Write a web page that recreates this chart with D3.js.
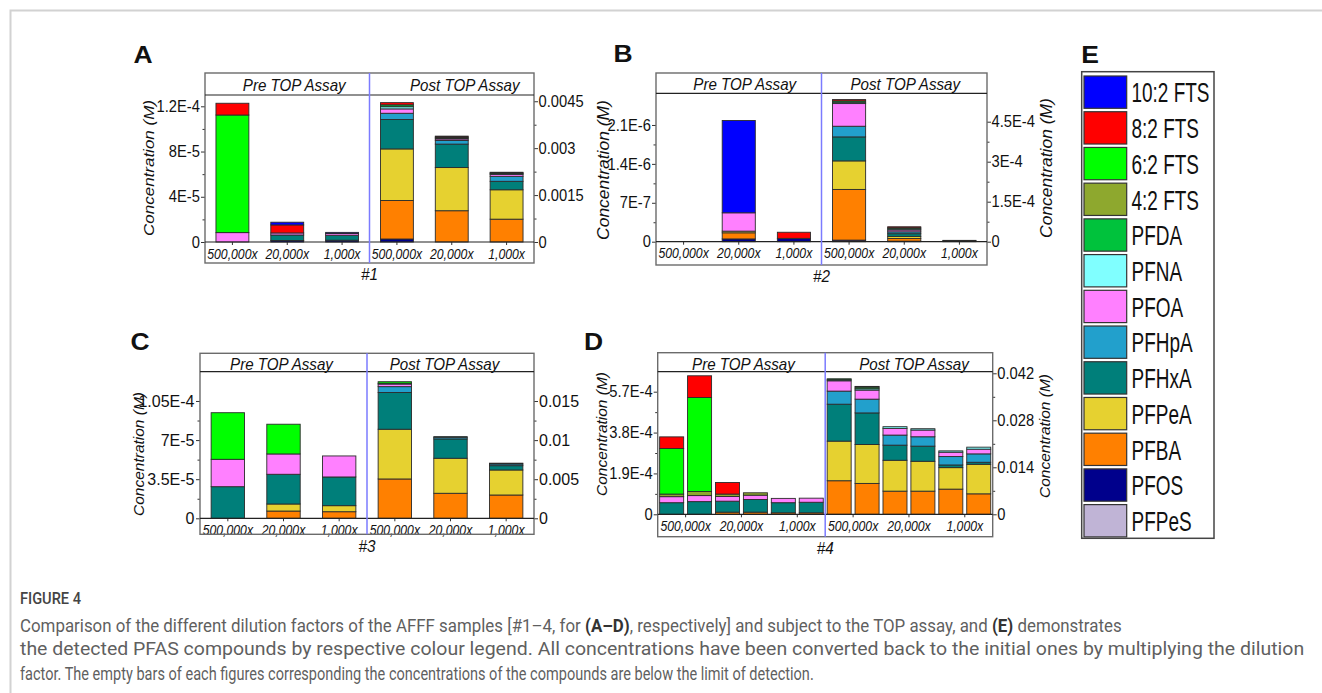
<!DOCTYPE html>
<html><head><meta charset="utf-8">
<script src="https://cdn.jsdelivr.net/npm/d3@7"></script>
<style>body{margin:0;background:#fff} svg{display:block}</style>
</head><body><svg id="fig" width="1322" height="693"></svg>
<script>
// ---------- DATA ----------
const compounds = ["10:2 FTS","8:2 FTS","6:2 FTS","4:2 FTS","PFDA","PFNA","PFOA","PFHpA","PFHxA","PFPeA","PFBA","PFOS","PFPeS"];
const compoundColors = ["#0000ff","#ff0000","#00ff00","#8ea82e","#00c23c","#80ffff","#ff80ff","#22a0cc","#007f7a","#e6d130","#ff8000","#00008c","#c0b4d6"];
const stackOrder = compounds.slice().reverse(); // bottom -> top
const dilutions = ["500,000x","20,000x","1,000x"];
const D_bars = ["500,000x a","500,000x b","20,000x a","20,000x b","1,000x a","1,000x b"];
const phases = ["Pre TOP Assay","Post TOP Assay"];

// Panel A (#1)
const A_pre = [
  {"PFOA":8.3e-6,"6:2 FTS":1.04e-4,"8:2 FTS":1.04e-5},
  {"PFOS":1.3e-6,"PFHxA":4.9e-6,"PFOA":1.8e-6,"8:2 FTS":7.1e-6,"10:2 FTS":2.4e-6},
  {"PFOS":1.6e-6,"PFHxA":4.4e-6,"PFOA":1.5e-6,"10:2 FTS":1.0e-6}
];
const A_post = [
  {"PFOS":9.6e-5,"PFBA":1.23e-3,"PFPeA":1.65e-3,"PFHxA":9.4e-4,"PFHpA":2.0e-4,"PFOA":1.4e-4,"PFNA":7e-5,"PFDA":6e-5,"8:2 FTS":7e-5},
  {"PFBA":1.0e-3,"PFPeA":1.38e-3,"PFHxA":7.5e-4,"PFHpA":1.15e-4,"PFOA":5e-5,"PFNA":3e-5,"PFDA":3e-5,"8:2 FTS":3e-5},
  {"PFBA":7.3e-4,"PFPeA":9.4e-4,"PFHxA":2.7e-4,"PFHpA":1.6e-4,"PFOA":6e-5,"PFNA":3e-5,"PFDA":2e-5,"8:2 FTS":2e-5}
];
// Panel B (#2)
const B_pre = [
  {},
  {"PFOS":5e-8,"PFBA":1.1e-7,"PFPeA":3e-8,"PFOA":3.3e-7,"10:2 FTS":1.66e-6},
  {"PFOS":6e-8,"8:2 FTS":1.1e-7}
];
const B_post = [
  {"PFOS":6e-6,"PFBA":1.9e-4,"PFPeA":1.07e-4,"PFHxA":9e-5,"PFHpA":4e-5,"PFOA":8.5e-5,"PFNA":5e-6,"PFDA":5e-6,"8:2 FTS":5e-6},
  {"PFOS":2e-6,"PFBA":1e-5,"PFPeA":8e-6,"PFHxA":1e-5,"PFHpA":7e-6,"PFOA":7e-6,"PFNA":4e-6,"PFDA":4e-6,"8:2 FTS":4e-6},
  {"PFOS":1e-6,"PFBA":2e-6,"PFHxA":2e-6}
];
// Panel C (#3)
const C_pre = [
  {"PFHxA":2.83e-5,"PFOA":2.45e-5,"6:2 FTS":4.17e-5},
  {"PFBA":6.5e-6,"PFPeA":6.3e-6,"PFHxA":2.66e-5,"PFOA":1.82e-5,"6:2 FTS":2.66e-5},
  {"PFBA":5.9e-6,"PFPeA":5.4e-6,"PFHxA":2.57e-5,"PFOA":1.88e-5}
];
const C_post = [
  {"PFBA":5.03e-3,"PFPeA":6.36e-3,"PFHxA":4.7e-3,"PFHpA":7.5e-4,"PFOA":3.3e-4,"PFNA":1e-4,"6:2 FTS":2e-4},
  {"PFBA":3.2e-3,"PFPeA":4.48e-3,"PFHxA":2.47e-3,"PFHpA":2e-4,"PFNA":1e-4},
  {"PFBA":2.98e-3,"PFPeA":3.2e-3,"PFHxA":5.5e-4,"PFHpA":2.2e-4,"PFOA":1e-4}
];
// Panel D (#4), two replicate bars per dilution
const D_pre = [
  {"PFHxA":5.4e-5,"PFOA":2.8e-5,"4:2 FTS":1.2e-5,"6:2 FTS":2.12e-4,"8:2 FTS":5.4e-5},
  {"PFHxA":5.9e-5,"PFOA":2.8e-5,"4:2 FTS":1.9e-5,"6:2 FTS":4.37e-4,"8:2 FTS":1.01e-4},
  {"PFBA":1e-5,"PFHxA":5.1e-5,"PFOA":2.2e-5,"4:2 FTS":1.1e-5,"8:2 FTS":5.4e-5},
  {"PFBA":1e-5,"PFHxA":5.9e-5,"PFOA":2e-5,"4:2 FTS":1.1e-5},
  {"PFBA":7e-6,"PFHxA":4.7e-5,"PFOA":2e-5},
  {"PFBA":7e-6,"PFHxA":4.9e-5,"PFOA":1.9e-5}
];
const D_post = [
  {"PFBA":1.0e-2,"PFPeA":1.18e-2,"PFHxA":1.1e-2,"PFHpA":3.9e-3,"PFOA":3.07e-3,"PFNA":3e-4,"PFDA":3e-4},
  {"PFBA":9.2e-3,"PFPeA":1.16e-2,"PFHxA":9.4e-3,"PFHpA":4.1e-3,"PFOA":2.7e-3,"PFNA":4e-4,"PFDA":5e-4,"8:2 FTS":2e-4},
  {"PFBA":6.9e-3,"PFPeA":9.2e-3,"PFHxA":4.5e-3,"PFHpA":3e-3,"PFOA":2e-3,"PFNA":5e-4},
  {"PFBA":6.9e-3,"PFPeA":8.9e-3,"PFHxA":4.5e-3,"PFHpA":2.8e-3,"PFOA":2e-3,"PFNA":4e-4},
  {"PFBA":7.5e-3,"PFPeA":6.4e-3,"PFHxA":8e-4,"PFHpA":2.5e-3,"PFOA":1.3e-3,"PFNA":4e-4},
  {"PFBA":6.1e-3,"PFPeA":8.8e-3,"PFHxA":6e-4,"PFHpA":2.5e-3,"PFOA":1.4e-3,"PFNA":6e-4}
];

// Axis ticks and labels
const A_leftTicks = [0,4e-5,8e-5,1.2e-4], A_leftLabels = ["0","4E-5","8E-5","1.2E-4"];
const A_rightTicks = [0,0.0015,0.003,0.0045], A_rightLabels = ["0","0.0015","0.003","0.0045"];
const B_leftTicks = [0,7e-7,1.4e-6,2.1e-6], B_leftLabels = ["0","7E-7","1.4E-6","2.1E-6"];
const B_rightTicks = [0,1.5e-4,3e-4,4.5e-4], B_rightLabels = ["0","1.5E-4","3E-4","4.5E-4"];
const C_leftTicks = [0,3.5e-5,7e-5,1.05e-4], C_leftLabels = ["0","3.5E-5","7E-5","1.05E-4"];
const C_rightTicks = [0,0.005,0.01,0.015], C_rightLabels = ["0","0.005","0.01","0.015"];
const D_leftTicks = [0,1.9e-4,3.8e-4,5.7e-4], D_leftLabels = ["0","1.9E-4","3.8E-4","5.7E-4"];
const D_rightTicks = [0,0.014,0.028,0.042], D_rightLabels = ["0","0.014","0.028","0.042"];

const captionTitle = "FIGURE 4";
const captionLines = [
  [["Comparison of the different dilution factors of the AFFF samples [#1\u20134, for ",0],["(A\u2013D)",1],[", respectively] and subject to the TOP assay, and ",0],["(E)",1],[" demonstrates",0]],
  [["the detected PFAS compounds by respective colour legend. All concentrations have been converted back to the initial ones by multiplying the dilution",0]],
  [["factor. The empty bars of each figures corresponding the concentrations of the compounds are below the limit of detection.",0]]
];

// ---------- LAYOUT ----------
const FONT = "'Liberation Sans', Arial, Helvetica, sans-serif";
const svg = d3.select("#fig");
svg.append("rect").attr("width",1322).attr("height",693).attr("fill","#fff");
svg.append("path").attr("d","M10.5,693 V10.5 H1322").attr("fill","none").attr("stroke","#d2d2d2").attr("stroke-width",2);

function label(g, x, y, s, o={}) {
  return g.append("text")
    .attr("transform", `translate(${x},${y}) rotate(${o.rot||0}) scale(${o.sx||1},${o.sy||1})`)
    .attr("text-anchor", o.anchor||"middle")
    .attr("dominant-baseline", "central")
    .attr("font-family", o.family||FONT)
    .attr("font-size", o.fs||16)
    .attr("font-style", o.italic?"italic":"normal")
    .attr("font-weight", o.bold?"bold":"normal")
    .attr("fill", o.fill||"#111")
    .text(s);
}

const panels = [
  {id:"A", tag:"#1", bars:dilutions, pad:0.4, pre:A_pre, post:A_post,
   lt:A_leftTicks, ltl:A_leftLabels, lmax:1.3e-4, rt:A_rightTicks, rtl:A_rightLabels, rmax:0.0047,
   L:{left:205,right:534,top:73,hb:95,zero:242,bottom:263,letter:[143,55],ylab:[148,168],yr:null,yfs:17,head:[7,13],tsx:0.92}},
  {id:"B", tag:"#2", bars:dilutions, pad:0.4, pre:B_pre, post:B_post,
   lt:B_leftTicks, ltl:B_leftLabels, lmax:2.67e-6, rt:B_rightTicks, rtl:B_rightLabels, rmax:5.565e-4,
   L:{left:656,right:987,top:73,hb:93.3,zero:241.7,bottom:265,letter:[623,54],ylab:[604,170],yr:[1047,168],yfs:17.5,head:[6,1],tsx:0.92}},
  {id:"C", tag:"#3", bars:dilutions, pad:0.4, pre:C_pre, post:C_post,
   lt:C_leftTicks, ltl:C_leftLabels, lmax:1.312e-4, rt:C_rightTicks, rtl:C_rightLabels, rmax:0.01875,
   L:{left:200,right:534,top:353.3,hb:371.7,zero:518.3,bottom:534.3,letter:[140,342],ylab:[139,454],yr:null,yfs:15.5,head:[-2,-6],tsx:1.0}},
  {id:"D", tag:"#4", bars:D_bars, pad:0.14, pre:D_pre, post:D_post,
   lt:D_leftTicks, ltl:D_leftLabels, lmax:6.63e-4, rt:D_rightTicks, rtl:D_rightLabels, rmax:0.04248,
   L:{left:657.7,right:992.7,top:352.7,hb:371.7,zero:514.3,bottom:536.7,letter:[593.5,342],ylab:[602,434],yr:[1045,436],yfs:15.5,head:[2,5],tsx:0.92}}
];

const stack = d3.stack().keys(stackOrder).value((d,k)=>d[k]||0);
const minorOf = t => d3.pairs(t).map(([a,b])=>(a+b)/2);

function styleAxis(sel, sx) {
  sel.select(".domain").remove();
  sel.selectAll("line").attr("stroke","#333").attr("stroke-width",1);
  sel.selectAll("text").attr("font-size",16).attr("font-family",FONT).attr("fill","#111")
     .attr("transform",`scale(${sx},1)`);
}

panels.forEach(P=>{
  const L = P.L;
  const g = svg.append("g");
  const mid = (L.left+L.right)/2;
  const halves = [[L.left,mid],[mid,L.right]];
  const yL = d3.scaleLinear([0,P.lmax],[L.zero,L.hb]);
  const yR = d3.scaleLinear([0,P.rmax],[L.zero,L.hb]);

  [P.pre, P.post].forEach((data,hi)=>{
    const [x0,x1] = halves[hi];
    const xb = d3.scaleBand(P.bars,[x0,x1]).paddingInner(P.pad).paddingOuter(P.pad/2);
    const y = hi===0 ? yL : yR;
    stack(data).forEach(s=>{
      const color = compoundColors[compounds.indexOf(s.key)];
      g.append("g").selectAll("rect")
        .data(s.map((v,i)=>({v,i})).filter(d=>d.v[1]-d.v[0]>0))
        .join("rect")
        .attr("x",d=>xb(P.bars[d.i])).attr("width",xb.bandwidth())
        .attr("y",d=>y(d.v[1])).attr("height",d=>y(d.v[0])-y(d.v[1]))
        .attr("fill",color).attr("stroke","#2b2b2b").attr("stroke-width",0.9);
    });
    const xg = d3.scaleBand(dilutions,[x0,x1]);
    g.append("g").attr("transform",`translate(0,${L.zero})`)
      .call(d3.axisBottom(xg).tickSize(3).tickFormat(""))
      .call(a=>styleAxis(a,1));
    dilutions.forEach(d=>label(g, xg(d)+xg.bandwidth()/2, L.zero+11, d, {fs:15.5,sx:0.79,italic:true}));
    label(g, (x0+x1)/2 + L.head[hi], (L.top+L.hb)/2+1, phases[hi], {fs:17,sx:0.89,italic:true});
  });

  // axes
  g.append("g").attr("transform",`translate(${L.left},0)`)
    .call(d3.axisLeft(yL).tickValues(P.lt).tickFormat((d,i)=>P.ltl[i]).tickSize(4).tickPadding(1.5))
    .call(a=>styleAxis(a,L.tsx));
  g.append("g").attr("transform",`translate(${L.left},0)`)
    .call(d3.axisLeft(yL).tickValues(minorOf(P.lt)).tickFormat("").tickSize(2.5))
    .call(a=>styleAxis(a,1));
  g.append("g").attr("transform",`translate(${L.right},0)`)
    .call(d3.axisRight(yR).tickValues(P.rt).tickFormat((d,i)=>P.rtl[i]).tickSize(4).tickPadding(1))
    .call(a=>styleAxis(a,L.tsx));
  g.append("g").attr("transform",`translate(${L.right},0)`)
    .call(d3.axisRight(yR).tickValues(minorOf(P.rt)).tickFormat("").tickSize(2.5))
    .call(a=>styleAxis(a,1));

  // frame
  g.append("rect").attr("x",L.left).attr("y",L.top).attr("width",L.right-L.left).attr("height",L.bottom-L.top)
    .attr("fill","none").attr("stroke","#6b6b6b").attr("stroke-width",1.4);
  [L.hb, L.zero].forEach(yy=>g.append("line").attr("x1",L.left).attr("x2",L.right).attr("y1",yy).attr("y2",yy)
    .attr("stroke","#222").attr("stroke-width",1.2));
  g.append("line").attr("x1",mid).attr("x2",mid).attr("y1",L.top).attr("y2",L.bottom)
    .attr("stroke","#7b7bff").attr("stroke-width",1.5);

  label(g, mid, L.bottom+11, P.tag, {fs:17,sx:0.9,italic:true});
  label(g, L.ylab[0], L.ylab[1], "Concentration (M)", {rot:-90,fs:L.yfs,italic:true,sy:0.9});
  if (L.yr) label(g, L.yr[0], L.yr[1], "Concentration (M)", {rot:-90,fs:L.yfs,italic:true,sy:0.9});
  label(svg, L.letter[0], L.letter[1], P.id, {fs:23,bold:true,sx:1.15});
});

// ---------- LEGEND (E) ----------
label(svg, 1090, 55, "E", {fs:23,bold:true,sx:1.15});
const lg = svg.append("g");
lg.append("rect").attr("x",1081.7).attr("y",71.7).attr("width",132.3).attr("height",466.6)
  .attr("fill","#fff").attr("stroke","#444").attr("stroke-width",1.5);
const ly = d3.scaleBand(compounds,[76,76+35.47*13]).paddingInner(0.09);
lg.selectAll("rect.sw").data(compounds).join("rect").attr("class","sw")
  .attr("x",1084).attr("width",42.7).attr("y",d=>ly(d)).attr("height",32.3)
  .attr("fill",(d,i)=>compoundColors[i]).attr("stroke","#333").attr("stroke-width",1.2);
compounds.forEach(d=>label(lg, 1131.5, ly(d)+16.5, d, {fs:26,sx:0.73,sy:1.08,anchor:"start"}));

// ---------- CAPTION ----------
const CAPFONT = "Roboto, 'Noto Sans', sans-serif";
label(svg, 20, 598, captionTitle, {fs:16,anchor:"start",fill:"#444",family:CAPFONT})
  .attr("textLength",61).attr("lengthAdjust","spacingAndGlyphs").attr("font-weight",500);
const capEnds = [1122, 1305, 814];
captionLines.forEach((parts,li)=>{
  const lgp = svg.append("g");
  const t = lgp.append("text").attr("x",0).attr("y",0).attr("dominant-baseline","central")
    .attr("font-family",CAPFONT).attr("font-size",17.5).attr("fill","#5f5f5f");
  parts.forEach(([s,b])=>t.append("tspan").attr("font-weight",b?"bold":"normal").attr("fill",b?"#333":"#5f5f5f").text(s));
  const w = t.node().getComputedTextLength();
  lgp.attr("transform",`translate(20,${626+li*23.8}) scale(${(capEnds[li]-20)/w},1)`);
});
</script></body></html>
